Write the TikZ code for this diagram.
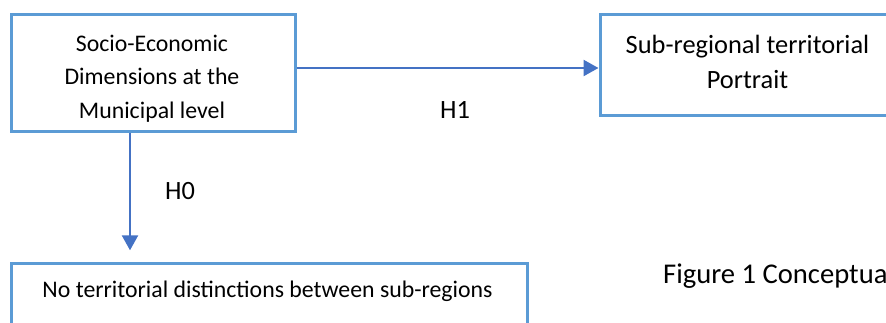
\documentclass[tikz,border=0pt]{standalone}
\usepackage{fontspec}
\setmainfont{Carlito}
\usetikzlibrary{arrows.meta}
\definecolor{boxblue}{HTML}{5B9BD5}
\definecolor{arrowblue}{HTML}{4472C4}
\tikzset{
  framebox/.style={draw=boxblue, line width=3pt, fill=white, inner sep=0pt},
  label text/.style={inner sep=0pt, align=center},
  link/.style={draw=arrowblue, line width=2.4pt,
    -{Triangle[length=15pt,width=16pt]}},
}
\begin{document}
\begin{tikzpicture}[x=1pt, y=-1pt]
  \useasboundingbox (0,0) rectangle (886,322);
  \clip (0,0) rectangle (886,322);

  % boxes
  \node[framebox, minimum width=284pt, minimum height=117.4pt] (se) at (153,73) {};
  \node[framebox, minimum width=295pt, minimum height=101pt] (pr) at (747.5,64.7) {};
  \node[framebox, minimum width=516pt, minimum height=80pt, anchor=north] (nd) at (269,262.3) {};

  % box captions (base anchor sits on the last line)
  \node[label text, anchor=base, font=\fontsize{23.8}{33.7}\selectfont] (setxt) at (152,118.5)
    {Socio-Economic\\Dimensions at the\\Municipal level};
  \node[label text, anchor=base, font=\fontsize{26.4}{35}\selectfont] (prtxt) at (747.5,88)
    {Sub-regional territorial\\Portrait};
  \node[label text, anchor=base, font=\fontsize{23.8}{30}\selectfont] (ndtxt) at (267.5,297)
    {No territorial distinctions between sub-regions};

  % hypotheses
  \coordinate (h1y) at (0,68);
  \coordinate (h0x) at (130,0);
  \draw[link] (se.east |- h1y) -- (pr.west |- h1y);
  \draw[link, shorten >=12pt] (se.south -| h0x) -- (nd.north -| h0x);

  \node[label text, anchor=base, font=\fontsize{26.4}{32}\selectfont] (h1) at (455,118) {H1};
  \node[label text, anchor=base, font=\fontsize{26.4}{32}\selectfont] (h0) at (180,199) {H0};

  % caption
  \node[label text, anchor=base west, font=\fontsize{28.6}{34}\selectfont] (cap) at (663,283)
    {Figure 1 Conceptua};
\end{tikzpicture}
\end{document}
